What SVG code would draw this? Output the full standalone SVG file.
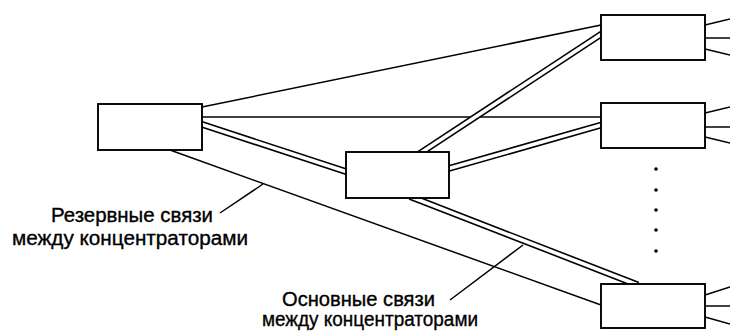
<svg xmlns="http://www.w3.org/2000/svg" width="730" height="333" viewBox="0 0 730 333">
<style>
.bg{fill:#fff}
.node rect{fill:#fff;stroke:#000;stroke-width:1.9}
.ln{stroke:#000;stroke-width:1.5;fill:none;stroke-linecap:butt}
.dblo{stroke:#000;stroke-width:6.8;fill:none}
.dbli{stroke:#fff;stroke-width:3.6;fill:none}
.lbl{font-family:"Liberation Sans",Arial,sans-serif;font-size:20px;fill:#000;stroke:#000;stroke-width:0.35}
.dot{fill:#000}
</style>
<rect class="bg" x="0" y="0" width="730" height="333"/>
<g id="connectors">
  <line class="ln" x1="202" y1="107" x2="601" y2="25"/>
  <line class="ln" x1="202" y1="117" x2="601" y2="117"/>
  <line class="ln" x1="170" y1="150" x2="601" y2="305"/>
  <g id="primary-links">
    <line class="dblo" x1="200" y1="123.8" x2="348" y2="172.2"/>
    <line class="dbli" x1="200" y1="123.8" x2="348" y2="172.2"/>
    <line class="dblo" x1="419" y1="154" x2="603" y2="33"/>
    <line class="dbli" x1="419" y1="154" x2="603" y2="33"/>
    <line class="dblo" x1="447" y1="169" x2="603" y2="124.5"/>
    <line class="dbli" x1="447" y1="169" x2="603" y2="124.5"/>
    <line class="dblo" x1="410" y1="196.5" x2="638" y2="285"/>
    <line class="dbli" x1="410" y1="196.5" x2="638" y2="285"/>
  </g>
  <g id="outputs">
    <line class="ln" x1="705" y1="25" x2="730" y2="19"/>
    <line class="ln" x1="705" y1="38" x2="730" y2="38"/>
    <line class="ln" x1="705" y1="49" x2="730" y2="55"/>
    <line class="ln" x1="705" y1="113" x2="730" y2="107"/>
    <line class="ln" x1="705" y1="127" x2="730" y2="127"/>
    <line class="ln" x1="705" y1="137" x2="730" y2="143"/>
    <line class="ln" x1="705" y1="295" x2="730" y2="287"/>
    <line class="ln" x1="705" y1="306" x2="730" y2="306"/>
    <line class="ln" x1="705" y1="317" x2="730" y2="324"/>
  </g>
  <g id="leaders">
    <line class="ln" x1="220" y1="213" x2="263" y2="184"/>
    <line class="ln" x1="450" y1="300" x2="523" y2="245"/>
  </g>
</g>
<g id="hub-left" class="node"><rect x="98" y="104" width="104" height="46"/></g>
<g id="hub-center" class="node"><rect x="346" y="152" width="103" height="46"/></g>
<g id="hub-r1" class="node"><rect x="601" y="15" width="104" height="45"/></g>
<g id="hub-r2" class="node"><rect x="601" y="103" width="104" height="45"/></g>
<g id="hub-r3" class="node"><rect x="601" y="284" width="104" height="44"/></g>
<g id="ellipsis">
  <circle class="dot" cx="656" cy="169" r="1.8"/>
  <circle class="dot" cx="656" cy="190" r="1.8"/>
  <circle class="dot" cx="656" cy="210" r="1.8"/>
  <circle class="dot" cx="656" cy="230" r="1.8"/>
  <circle class="dot" cx="656" cy="251" r="1.8"/>
</g>
<g id="label-reserve">
  <text class="lbl" x="51" y="222" textLength="162" lengthAdjust="spacingAndGlyphs">Резервные связи</text>
  <text class="lbl" x="12" y="245" textLength="236" lengthAdjust="spacingAndGlyphs">между концентраторами</text>
</g>
<g id="label-primary">
  <text class="lbl" x="282" y="306" textLength="153" lengthAdjust="spacingAndGlyphs">Основные связи</text>
  <text class="lbl" x="262" y="326" textLength="216" lengthAdjust="spacingAndGlyphs">между концентраторами</text>
</g>
</svg>
